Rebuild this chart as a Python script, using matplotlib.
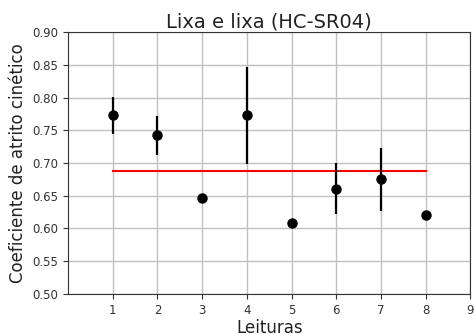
import matplotlib
matplotlib.use("Agg")
import matplotlib.pyplot as plt
import numpy as np

leituras = [1, 2, 3, 4, 5, 6, 7, 8]
coef = [0.773, 0.742, 0.647, 0.773, 0.608, 0.661, 0.675, 0.621]
erro = [0.028, 0.030, 0.002, 0.074, 0.002, 0.039, 0.048, 0.002]
media = float(np.mean(coef))
xticks = [1, 2, 3, 4, 5, 6, 7, 8, 9]

fig = plt.figure(figsize=(4.74, 3.34), dpi=100)
ax = fig.add_axes([0.1435, 0.12, 0.849, 0.784])
ax.errorbar(leituras, coef, yerr=erro, fmt='o', color='black', markersize=6.5,
            elinewidth=1.6, zorder=3)
ax.plot([leituras[0], leituras[-1]], [media, media], color='red', linewidth=1.5, zorder=2)
ax.set_xlim(0, 9)
ax.set_ylim(0.50, 0.90)
ax.set_xticks(xticks)
ax.set_yticks(np.arange(0.50, 0.901, 0.05))
ax.yaxis.set_major_formatter(matplotlib.ticker.FormatStrFormatter('%.2f'))
ax.grid(True, color='#c0c0c0', linewidth=1)
ax.set_axisbelow(True)
ax.tick_params(labelsize=8.5, colors='#333333')
for s in ax.spines.values():
    s.set_color('#333333')
ax.set_title('Lixa e lixa (HC-SR04)', fontsize=14, color='#222222', pad=3)
ax.set_xlabel('Leituras', fontsize=12, color='#222222', labelpad=2)
ax.set_ylabel('Coeficiente de atrito cinético', fontsize=12, color='#222222', labelpad=4)
fig.savefig('out.png', dpi=100)
